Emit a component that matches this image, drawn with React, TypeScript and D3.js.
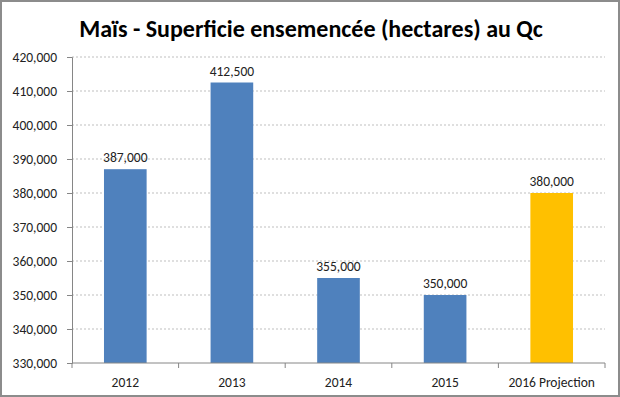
import { useEffect, useRef } from 'react';
import * as d3 from 'd3';

const categories = ['2012', '2013', '2014', '2015', '2016 Projection'];
const values = [387000, 412500, 355000, 350000, 380000];
const barColors = ['#4F81BD', '#4F81BD', '#4F81BD', '#4F81BD', '#FFC000'];
const yTicks = [330000, 340000, 350000, 360000, 370000, 380000, 390000, 400000, 410000, 420000];

const width = 620;
const height = 397;

export default function App() {
  const ref = useRef<SVGSVGElement>(null);

  useEffect(() => {
    const svg = d3.select(ref.current);
    svg.selectAll('*').remove();

    const margin = { top: 57, right: 15, bottom: 34, left: 72 };
    const innerWidth = width - margin.left - margin.right;
    const innerHeight = height - margin.top - margin.bottom;
    const font = 'Calibri, Carlito, "Open Sans", sans-serif';

    svg.append('rect')
      .attr('x', 1).attr('y', 1)
      .attr('width', width - 2).attr('height', height - 2)
      .attr('fill', 'white')
      .attr('stroke', '#8c8c8c')
      .attr('stroke-width', 2);

    svg.append('text')
      .attr('x', 311)
      .attr('y', 37)
      .attr('text-anchor', 'middle')
      .style('font-family', font)
      .style('font-weight', 'bold')
      .style('font-size', '24px')
      .text('Maïs - Superficie ensemencée (hectares) au Qc');

    const g = svg.append('g').attr('transform', `translate(${margin.left},${margin.top})`);

    const x = d3.scaleBand().domain(categories).range([0, innerWidth]).paddingInner(0.6).paddingOuter(0.3);
    const y = d3.scaleLinear().domain([330000, 420000]).range([innerHeight, 0]);

    // grid
    g.selectAll('.grid')
      .data(yTicks.slice(1))
      .join('line')
      .attr('x1', 0).attr('x2', innerWidth)
      .attr('y1', d => y(d)).attr('y2', d => y(d))
      .attr('stroke', '#bfbfbf')
      .attr('stroke-dasharray', '2,2');

    const yAxis = g.append('g')
      .call(d3.axisLeft(y).tickValues(yTicks).tickSize(5).tickFormat(d3.format(',')));
    yAxis.select('.domain').attr('stroke', '#868686');
    yAxis.selectAll('.tick line').attr('stroke', '#868686');
    yAxis.selectAll('.tick text')
      .attr('x', -15)
      .style('font-family', font)
      .style('font-size', '13.5px')
      .attr('fill', '#222');

    g.selectAll('.bar')
      .data(values)
      .join('rect')
      .attr('x', (d, i) => x(categories[i])!)
      .attr('width', x.bandwidth())
      .attr('y', d => y(d))
      .attr('height', d => innerHeight - y(d))
      .attr('fill', (d, i) => barColors[i]);

    g.selectAll('.label')
      .data(values)
      .join('text')
      .attr('x', (d, i) => x(categories[i])! + x.bandwidth() / 2)
      .attr('y', d => y(d) - 7)
      .attr('text-anchor', 'middle')
      .style('font-family', font)
      .style('font-size', '13.5px')
      .attr('fill', '#222')
      .text(d => d3.format(',')(d));

    const step = innerWidth / categories.length;
    const xAxis = g.append('g').attr('transform', `translate(0,${innerHeight})`);
    xAxis.append('line')
      .attr('x1', 0).attr('x2', innerWidth)
      .attr('stroke', '#868686');
    xAxis.selectAll('.xt')
      .data(d3.range(categories.length + 1))
      .join('line')
      .attr('x1', d => d * step).attr('x2', d => d * step)
      .attr('y1', 0).attr('y2', 5)
      .attr('stroke', '#868686');
    xAxis.selectAll('.xl')
      .data(categories)
      .join('text')
      .attr('x', d => x(d)! + x.bandwidth() / 2)
      .attr('y', 24)
      .attr('text-anchor', 'middle')
      .style('font-family', font)
      .style('font-size', '13.5px')
      .attr('fill', '#222')
      .text(d => d);
  }, []);

  return (
    <svg ref={ref} width={width} height={height} style={{ position: 'absolute', left: 0, top: 0 }} />
  );
}
